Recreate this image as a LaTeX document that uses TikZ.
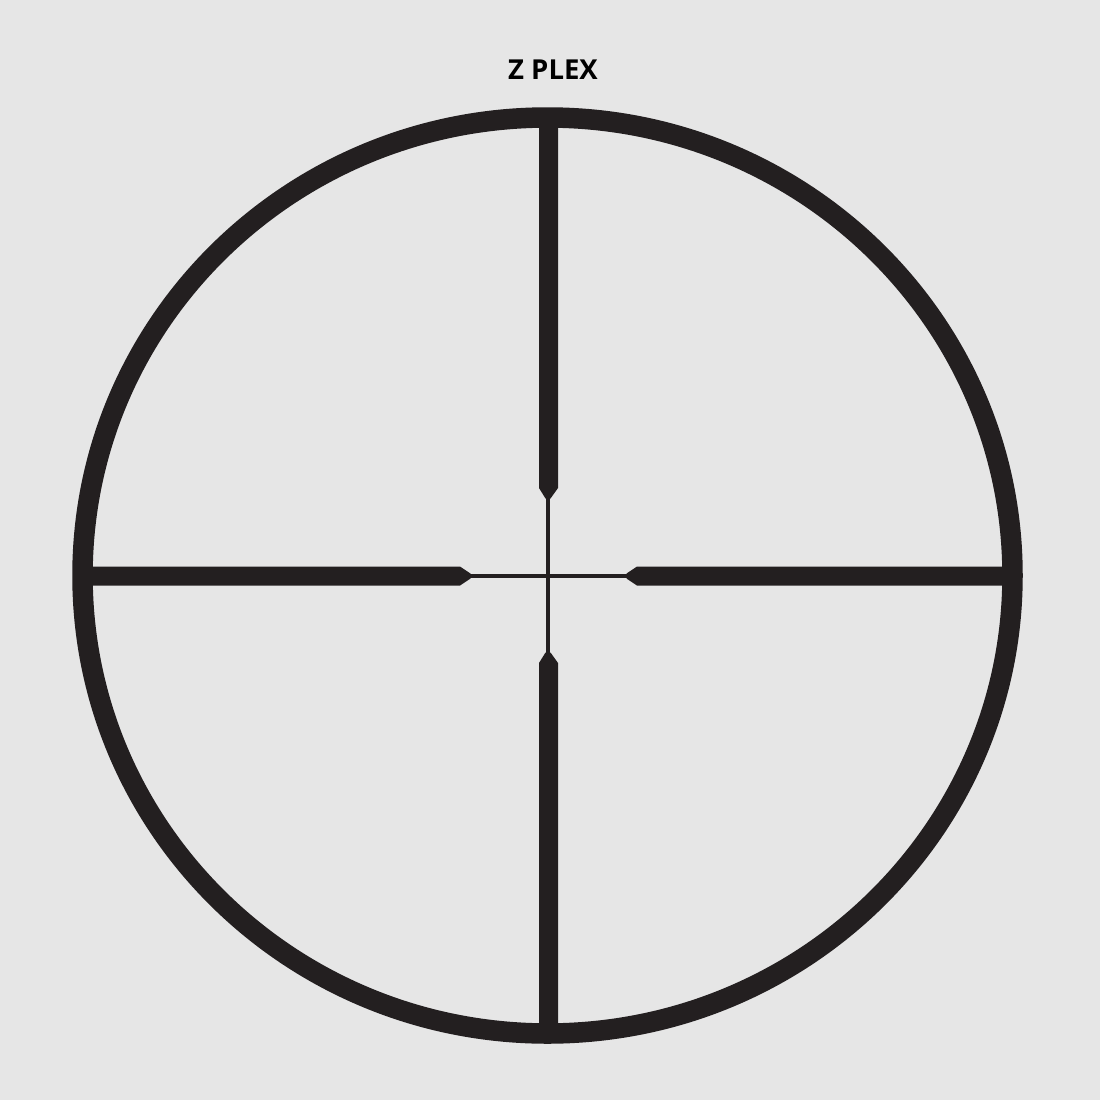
\documentclass[tikz,border=0pt]{standalone}
\usepackage{fontspec}
\newfontfamily\labelfont{Open Sans}
\definecolor{bg}{RGB}{230,230,230}
\definecolor{ink}{RGB}{35,31,32}
\begin{document}
\begin{tikzpicture}[x=1pt,y=-1pt,
  ring/.style={draw=ink,line width=20.5pt},
  bar/.style={fill=ink,draw=none},
  hair/.style={draw=ink,line width=3.2pt},
  title/.style={font=\labelfont\bfseries\fontsize{27.5}{32}\selectfont,text=black,inner sep=0pt}]
\fill[bg] (0,0) rectangle (1100,1100);
\useasboundingbox (0,0) rectangle (1100,1100);
% hairlines
\draw[hair] (548,495) -- (548,655);
\draw[hair] (466,576) -- (631,576);
% thick posts
\fill[bar] (539,115) -- (539,488) -- (545.5,498.5) -- (550.5,498.5) -- (558,488) -- (558,115) -- cycle;
\fill[bar] (539,1036) -- (539,663) -- (545.5,652.5) -- (550.5,652.5) -- (558,663) -- (558,1036) -- cycle;
\fill[bar] (80,566.5) -- (460,566.5) -- (470.5,573.5) -- (470.5,578.5) -- (460,585.5) -- (80,585.5) -- cycle;
\fill[bar] (1016,566.5) -- (637,566.5) -- (626.5,573.5) -- (626.5,578.5) -- (637,585.5) -- (1016,585.5) -- cycle;
% outer ring
\draw[ring] (547.5,575.5) ellipse [x radius=465, y radius=458];
\node[title] (t) at (553,69.5) {Z PLEX};
\end{tikzpicture}
\end{document}
